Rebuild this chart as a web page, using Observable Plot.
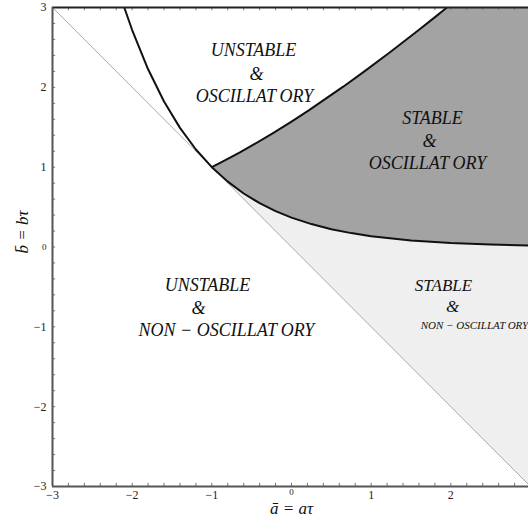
<!DOCTYPE html>
<html><head><meta charset="utf-8">
<script src="https://cdn.jsdelivr.net/npm/d3@7"></script>
<script src="https://cdn.jsdelivr.net/npm/@observablehq/plot@0.6"></script>
<style>html,body{margin:0;padding:0;background:#fff}svg{display:block}</style>
</head><body><div id="chart"></div>
<script>
// Upper boundary (stable / unstable oscillatory)
const upperA = [-1, -0.970, -0.915, -0.777, -0.642, -0.467, -0.242, 0, 0.221, 0.649, 0.915, 1.228, 1.601, 1.817, 1.908, 1.951];
const upperB = [1, 1.015, 1.043, 1.115, 1.188, 1.288, 1.421, 1.571, 1.714, 2.008, 2.200, 2.433, 2.721, 2.892, 2.965, 3.0];
// Lower boundary (oscillatory / non-oscillatory)
const lowerA = [-2.099, -2, -1.8, -1.6, -1.4, -1.2, -1, -0.8, -0.6, -0.4, -0.2, 0, 0.25, 0.5, 0.75, 1, 1.5, 2, 2.5, 3];
const lowerB = [3, 2.718, 2.226, 1.822, 1.492, 1.221, 1, 0.819, 0.670, 0.549, 0.449, 0.368, 0.287, 0.223, 0.174, 0.135, 0.082, 0.050, 0.030, 0.018];
// Diagonal b = -a
const diagA = [-3, 3];
const diagB = [3, -3];
const xTicks = [-3, -2, -1, 1, 2];
const xZeroTick = [0];
const yTicks = [-3, -2, -1, 0, 1, 2, 3];
const minorTicks = [-3, -2.8, -2.6, -2.4, -2.2, -2, -1.8, -1.6, -1.4, -1.2, -1, -0.8, -0.6, -0.4, -0.2, 0, 0.2, 0.4, 0.6, 0.8, 1, 1.2, 1.4, 1.6, 1.8, 2, 2.2, 2.4, 2.6, 2.8, 3];
const labelText = ["UNSTABLE", "&", "OSCILLAT\u2009ORY",
                   "STABLE", "&", "OSCILLAT\u2009ORY",
                   "UNSTABLE", "&", "NON \u2212 OSCILLAT\u2009ORY",
                   "STABLE", "&", "NON \u2212 OSCILLAT\u2009ORY"];
const labelA = [-0.477, -0.439, -0.465, 1.770, 1.732, 1.707, -1.054, -1.167, -0.816, 1.908, 2.021, 2.297];
const labelB = [2.461, 2.161, 1.885, 1.610, 1.321, 1.046, -0.482, -0.770, -1.046, -0.482, -0.745, -0.983];
const labelSize = [18, 18, 18, 18, 18, 18, 18, 18, 18, 17, 17, 11];

const pts = (A, B) => A.map((a, i) => ({a, b: B[i]}));
const lowerPts = pts(lowerA, lowerB);
const upperPts = pts(upperA, upperB);
const lowerRight = lowerPts.filter(p => p.a >= -1);
const darkPoly = [...lowerRight, {a: diagA[1], b: yTicks[yTicks.length - 1]}, ...upperPts.slice().reverse()];
const lightPoly = [...lowerRight, {a: diagA[1], b: diagB[1]}];
const labels = labelText.map((t, i) => ({t, a: labelA[i], b: labelB[i], s: labelSize[i]}));
const fmt = d => d < 0 ? "\u2212" + (-d) : String(d);
const serif = "'Liberation Serif', 'Times New Roman', Times, 'DejaVu Serif', serif";

const chart = Plot.plot({
  width: 528, height: 519,
  marginLeft: 52, marginRight: 0, marginTop: 7, marginBottom: 33,
  x: {domain: [-3, 3], range: [52, 530], axis: null},
  y: {domain: [-3, 3], range: [486, 7], axis: null},
  style: {background: "#fff"},
  marks: [
    Plot.line(lightPoly, {x: "a", y: "b", fill: "#efefef", stroke: null, clip: true}),
    Plot.line(darkPoly, {x: "a", y: "b", fill: "#a3a3a3", stroke: null, clip: true}),
    Plot.line(pts(diagA, diagB), {x: "a", y: "b", stroke: "#aaaaaa", strokeWidth: 1, clip: true}),
    Plot.line(lowerPts, {x: "a", y: "b", stroke: "#111", strokeWidth: 2, clip: true}),
    Plot.line(upperPts, {x: "a", y: "b", stroke: "#111", strokeWidth: 2, clip: true}),
    // minor ticks
    Plot.ruleX(minorTicks, {x: d => d, y1: -3, y2: -2.96, stroke: "#777", strokeWidth: 1}),
    Plot.ruleX(minorTicks, {x: d => d, y1: 3, y2: 2.96, stroke: "#777", strokeWidth: 1}),
    Plot.ruleY(minorTicks, {y: d => d, x1: -3, x2: -2.96, stroke: "#777", strokeWidth: 1}),
    // frame lines
    Plot.ruleY([3], {x1: -3, x2: 3, stroke: "#222", strokeWidth: 2}),
    Plot.ruleY([-3], {x1: -3, x2: 3, stroke: "#555", strokeWidth: 2}),
    Plot.ruleX([-3], {y1: -3, y2: 3, stroke: "#555", strokeWidth: 2}),
    // tick labels
    Plot.text(xTicks, {x: d => d, frameAnchor: "bottom", dy: 12, text: fmt, fontSize: 12, fill: "#222"}),
    Plot.text(xZeroTick, {x: d => d, frameAnchor: "bottom", dy: 8, text: fmt, fontSize: 9, fill: "#222"}),
    Plot.text(yTicks, {y: d => d, frameAnchor: "left", dx: -6, textAnchor: "end", text: fmt, fontSize: d => d === 0 ? 9 : 12, fill: "#222"}),
    // axis titles
    Plot.text(["\u0101 = a\u03c4"], {x: 0, frameAnchor: "bottom", dy: 27, fontSize: 17, fontStyle: "italic", fill: "#111"}),
    Plot.text(["b\u0304 = b\u03c4"], {y: -0.08, frameAnchor: "left", dx: -30, rotate: -90, fontSize: 17, fontStyle: "italic", fill: "#111"}),
    // region labels
    Plot.text(labels, {x: "a", y: "b", text: "t", fontSize: "s", fontStyle: "italic", fill: "#111"})
  ]
});
chart.querySelectorAll("text").forEach(t => t.style.fontFamily = serif);
chart.style.fontFamily = serif;
document.getElementById("chart").appendChild(chart);
</script>
</body></html>
